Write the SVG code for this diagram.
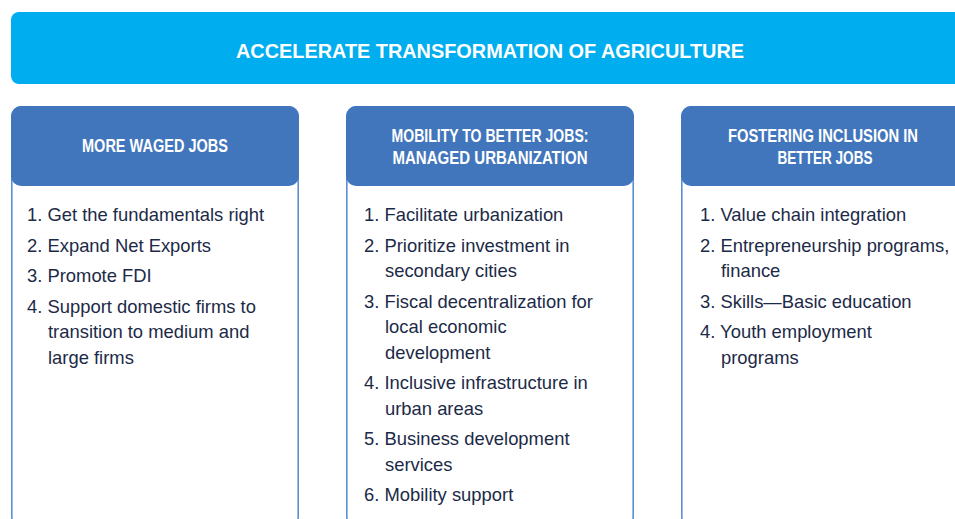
<svg xmlns="http://www.w3.org/2000/svg" width="955" height="519" viewBox="0 0 955 519">
  <style>
    .banner { fill: #00AEEF; }
    .frame { fill: #FFFFFF; stroke: #5B8ED3; stroke-width: 1.6; }
    .head { fill: #4276BC; }
    .title { font-family: "Liberation Sans", Arial, sans-serif; font-weight: bold; font-size: 21px; fill: #FFFFFF; }
    .htxt { font-family: "Liberation Sans", Arial, sans-serif; font-weight: bold; font-size: 18.5px; fill: #FFFFFF; text-anchor: middle; }
    .item { font-family: "Liberation Sans", Arial, sans-serif; font-size: 18.4px; fill: #1C2A47; }
  </style>
  <rect width="955" height="519" fill="#FFFFFF"/>

  <g id="banner">
    <rect class="banner" x="11" y="12" width="980" height="72" rx="8" ry="8"/>
    <text class="title" x="236" y="58.3" textLength="508" lengthAdjust="spacingAndGlyphs">ACCELERATE TRANSFORMATION OF AGRICULTURE</text>
  </g>

  <g id="more-waged-jobs">
    <rect class="frame" x="11.8" y="106.8" width="286.4" height="420" rx="10" ry="10"/>
    <rect class="head" x="11" y="106" width="288" height="80" rx="10" ry="10"/>
    <text class="htxt" x="155" y="152.3" textLength="146" lengthAdjust="spacingAndGlyphs">MORE WAGED JOBS</text>
    <text class="item" x="27" y="221">1. Get the fundamentals right</text>
    <text class="item" x="27" y="251.5">2. Expand Net Exports</text>
    <text class="item" x="27" y="282">3. Promote FDI</text>
    <text class="item" x="27" y="312.5">4. Support domestic firms to</text>
    <text class="item" x="48" y="338">transition to medium and</text>
    <text class="item" x="48" y="363.5">large firms</text>
  </g>

  <g id="mobility-to-better-jobs">
    <rect class="frame" x="346.8" y="106.8" width="286.4" height="420" rx="10" ry="10"/>
    <rect class="head" x="346" y="106" width="288" height="80" rx="10" ry="10"/>
    <text class="htxt" x="490" y="141.7" textLength="197" lengthAdjust="spacingAndGlyphs">MOBILITY TO BETTER JOBS:</text>
    <text class="htxt" x="490" y="163.5" textLength="195" lengthAdjust="spacingAndGlyphs">MANAGED URBANIZATION</text>
    <text class="item" x="364" y="221">1. Facilitate urbanization</text>
    <text class="item" x="364" y="251.5">2. Prioritize investment in</text>
    <text class="item" x="385" y="277">secondary cities</text>
    <text class="item" x="364" y="307.5">3. Fiscal decentralization for</text>
    <text class="item" x="385" y="333">local economic</text>
    <text class="item" x="385" y="358.5">development</text>
    <text class="item" x="364" y="389">4. Inclusive infrastructure in</text>
    <text class="item" x="385" y="414.5">urban areas</text>
    <text class="item" x="364" y="445">5. Business development</text>
    <text class="item" x="385" y="470.5">services</text>
    <text class="item" x="364" y="501">6. Mobility support</text>
  </g>

  <g id="fostering-inclusion">
    <rect class="frame" x="681.8" y="106.8" width="320" height="420" rx="10" ry="10"/>
    <rect class="head" x="681" y="106" width="320" height="80" rx="10" ry="10"/>
    <text class="htxt" x="823" y="141.7" textLength="190" lengthAdjust="spacingAndGlyphs">FOSTERING INCLUSION IN</text>
    <text class="htxt" x="825" y="163.5" textLength="95" lengthAdjust="spacingAndGlyphs">BETTER JOBS</text>
    <text class="item" x="700" y="221">1. Value chain integration</text>
    <text class="item" x="700" y="251.5">2. Entrepreneurship programs,</text>
    <text class="item" x="721" y="277">finance</text>
    <text class="item" x="700" y="307.5">3. Skills—Basic education</text>
    <text class="item" x="700" y="338">4. Youth employment</text>
    <text class="item" x="721" y="363.5">programs</text>
  </g>
</svg>
